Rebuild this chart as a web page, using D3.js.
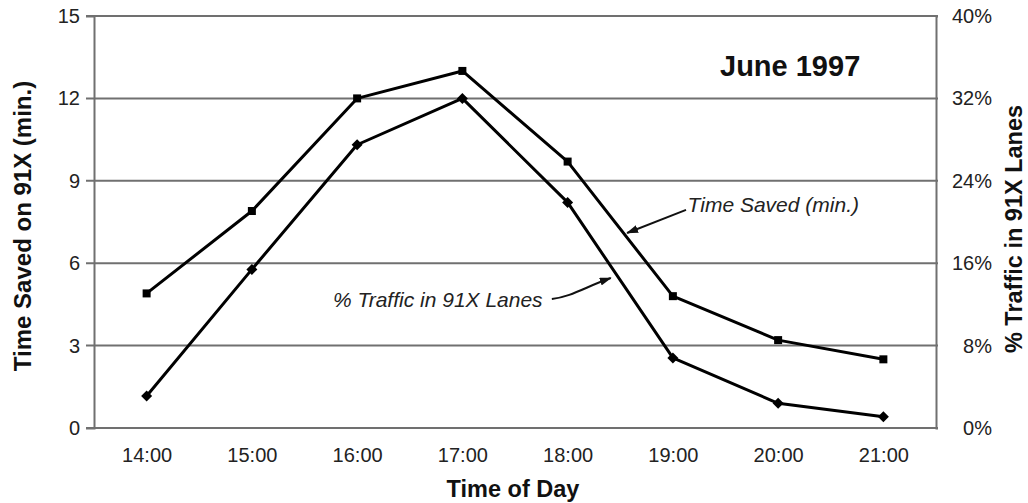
<!DOCTYPE html>
<html>
<head>
<meta charset="utf-8">
<script src="https://cdn.jsdelivr.net/npm/d3@7/dist/d3.min.js"></script>
<style>
  html, body { margin: 0; padding: 0; background: #fff; }
  svg { display: block; font-family: "Liberation Sans", Arial, sans-serif; }
</style>
</head>
<body>
<svg id="chart" width="1028" height="503"></svg>
<script>
const times = ["14:00", "15:00", "16:00", "17:00", "18:00", "19:00", "20:00", "21:00"];
const timeSaved = [4.9, 7.9, 12.0, 13.0, 9.7, 4.8, 3.2, 2.5];
const trafficPct = [0.031, 0.154, 0.275, 0.32, 0.219, 0.068, 0.024, 0.011];
const leftTicks = [0, 3, 6, 9, 12, 15];
const rightTicks = [0, 0.08, 0.16, 0.24, 0.32, 0.40];
const rightTickLabels = ["0%", "8%", "16%", "24%", "32%", "40%"];
const titleText = "June 1997";
const leftTitle = "Time Saved on 91X (min.)";
const rightTitle = "% Traffic in 91X Lanes";
const bottomTitle = "Time of Day";
// annotations: label position and arrow (in data index / left-axis units)
const annotations = [
  { text: "Time Saved (min.)", lx: 5.14, ly: 7.86, from: [5.125, 7.94], to: [4.565, 7.10], curve: 0 },
  { text: "% Traffic in 91X Lanes", lx: 1.77, ly: 4.40, from: [3.85, 4.70], to: [4.41, 5.46], curve: 1 }
];

const svg = d3.select("#chart");
const L = 94, R = 936, T = 16, B = 428;
const gridColor = "#707070";

const x = d3.scalePoint().domain(times).range([L, R]).padding(0.5);
const xi = d3.scaleLinear().domain([0, times.length - 1]).range([x(times[0]), x(times[times.length - 1])]);
const yL = d3.scaleLinear().domain([0, 15]).range([B, T]);
const yR = d3.scaleLinear().domain([0, 0.40]).range([B, T]);

// gridlines
svg.append("g").selectAll("line").data(leftTicks).join("line")
  .attr("x1", L - 8).attr("x2", R + 2)
  .attr("y1", d => yL(d)).attr("y2", d => yL(d))
  .attr("stroke", gridColor).attr("stroke-width", 2);

// left axis
const gL = svg.append("g").attr("transform", `translate(${L},0)`)
  .call(d3.axisLeft(yL).tickValues(leftTicks).tickSize(8).tickPadding(6).tickFormat(d3.format("d")));
gL.select(".domain").attr("stroke", gridColor).attr("stroke-width", 2);
gL.selectAll(".tick line").remove();
gL.selectAll("text").attr("font-size", 20).attr("fill", "#222").attr("font-family", "Liberation Sans, Arial, sans-serif");

// right axis
const gR = svg.append("g").attr("transform", `translate(${R},0)`)
  .call(d3.axisRight(yR).tickValues(rightTicks).tickSize(2).tickPadding(6).tickFormat((d, i) => rightTickLabels[i]));
gR.select(".domain").attr("stroke", gridColor).attr("stroke-width", 2);
gR.selectAll(".tick line").remove();
gR.selectAll("text").attr("font-size", 20).attr("fill", "#222").attr("text-anchor", "end").attr("x", 56)
  .attr("font-family", "Liberation Sans, Arial, sans-serif");

// bottom axis
const gB = svg.append("g").attr("transform", `translate(0,${B})`)
  .call(d3.axisBottom(x).tickSize(0).tickPadding(20));
gB.select(".domain").attr("stroke", gridColor).attr("stroke-width", 2).attr("d", `M${L - 8},0H${R}`);
gB.selectAll("text").attr("font-size", 20).attr("fill", "#222").attr("font-family", "Liberation Sans, Arial, sans-serif");

// lines
const lineL = d3.line().x((d, i) => x(times[i])).y(d => yL(d));
const lineR = d3.line().x((d, i) => x(times[i])).y(d => yR(d));
svg.append("path").datum(timeSaved).attr("d", lineL)
  .attr("fill", "none").attr("stroke", "#000").attr("stroke-width", 3).attr("stroke-linejoin", "round");
svg.append("path").datum(trafficPct).attr("d", lineR)
  .attr("fill", "none").attr("stroke", "#000").attr("stroke-width", 3).attr("stroke-linejoin", "round");

// markers
svg.append("g").selectAll("rect").data(timeSaved).join("rect")
  .attr("x", (d, i) => x(times[i]) - 4).attr("y", d => yL(d) - 4)
  .attr("width", 8).attr("height", 8).attr("fill", "#000");
svg.append("g").selectAll("path").data(trafficPct).join("path")
  .attr("d", (d, i) => {
    const cx = x(times[i]), cy = yR(d), s = 5.5;
    return `M${cx},${cy - s}L${cx + s},${cy}L${cx},${cy + s}L${cx - s},${cy}Z`;
  })
  .attr("fill", "#000");

// title
svg.append("text").attr("x", 720).attr("y", 76).attr("font-size", 29).attr("font-weight", "bold")
  .attr("fill", "#111").text(titleText);

// axis titles
svg.append("text").attr("transform", `translate(31,${(T + B) / 2 + 4}) rotate(-90)`)
  .attr("text-anchor", "middle").attr("font-size", 24).attr("font-weight", "bold").attr("fill", "#111").text(leftTitle);
svg.append("text").attr("transform", `translate(1022,${(T + B) / 2 + 7}) rotate(-90)`)
  .attr("text-anchor", "middle").attr("font-size", 23.5).attr("font-weight", "bold").attr("fill", "#111").text(rightTitle);
svg.append("text").attr("x", 513).attr("y", 497)
  .attr("text-anchor", "middle").attr("font-size", 23.5).attr("font-weight", "bold").attr("fill", "#111").text(bottomTitle);

// arrowhead marker
svg.append("defs").append("marker")
  .attr("id", "arrow").attr("viewBox", "0 0 12 8").attr("refX", 11).attr("refY", 4)
  .attr("markerWidth", 12).attr("markerHeight", 8).attr("markerUnits", "userSpaceOnUse").attr("orient", "auto")
  .append("path").attr("d", "M0,0L12,4L0,8Z").attr("fill", "#111");

annotations.forEach(a => {
  svg.append("text").attr("x", xi(a.lx)).attr("y", yL(a.ly)).attr("font-size", 21)
    .attr("font-style", "italic").attr("fill", "#222").text(a.text);
  const x1 = xi(a.from[0]), y1 = yL(a.from[1]), x2 = xi(a.to[0]), y2 = yL(a.to[1]);
  let d;
  if (a.curve) {
    const mx = (x1 + x2) / 2, my = (y1 + y2) / 2;
    d = `M${x1},${y1}C${mx - 10},${y1 - 2} ${mx + 5},${my - 2} ${x2},${y2}`;
  } else {
    d = `M${x1},${y1}L${x2},${y2}`;
  }
  svg.append("path").attr("d", d).attr("fill", "none").attr("stroke", "#111").attr("stroke-width", 2)
    .attr("marker-end", "url(#arrow)");
});
</script>
</body>
</html>
